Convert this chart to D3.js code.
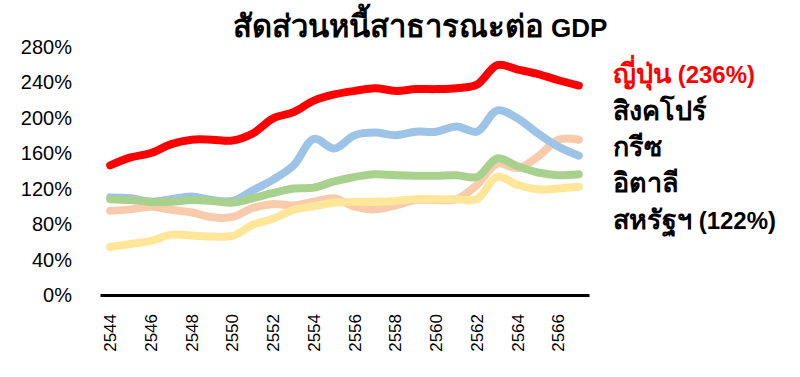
<!DOCTYPE html>
<html>
<head>
<meta charset="utf-8">
<script src="https://cdn.jsdelivr.net/npm/d3@7"></script>
<style>
  body { margin: 0; background: #fff; }
  svg { display: block; font-family: "Liberation Sans", Arial, sans-serif; }
</style>
</head>
<body>
<svg id="chart"></svg>
<script>
// ===============================
// Data
// ===============================
const years = d3.range(2544, 2568);
const tickYears = [2544, 2546, 2548, 2550, 2552, 2554, 2556, 2558, 2560, 2562, 2564, 2566];
const yTicks = [0, 40, 80, 120, 160, 200, 240, 280];

const japan     = [146, 155, 160, 170, 175, 175, 174, 182, 199, 206, 219, 226, 230, 233, 230, 232, 232, 233, 237, 259, 254, 249, 242, 236];
const singapore = [110, 109, 105, 108, 111, 107, 106, 118, 130, 146, 176, 165, 180, 183, 180, 184, 184, 190, 184, 208, 199, 182, 167, 157];
const greece    = [95, 96.5, 99.5, 96, 93, 87.5, 88, 98, 102.5, 101, 105, 109, 99.5, 96.5, 101, 107, 107, 108, 124, 148, 143, 156, 175, 175];
const italy     = [108, 107, 105, 105, 107, 106, 104, 109, 115, 120, 121, 128, 133, 136, 135, 134.5, 134.5, 135, 133, 154, 145, 138, 135, 136];
const usa       = [54, 57.5, 61, 68, 67, 66, 66.5, 79, 86, 96, 100, 104, 105, 105, 106, 108, 108, 108, 108, 133, 124, 119, 120, 122];

const titleText = "สัดส่วนหนี้สาธารณะต่อ GDP";
const legendLabels = ["ญี่ปุ่น (236%)", "สิงคโปร์", "กรีซ", "อิตาลี", "สหรัฐฯ (122%)"];

// ===============================
// Chart
// ===============================
const width = 800, height = 377;
const svg = d3.select("#chart").attr("width", width).attr("height", height);

const x = d3.scaleBand().domain(years).range([100, 589]);
const y = d3.scaleLinear().domain([0, 280]).range([295, 46.5]);

// Thai glyphs in the fallback font run small, so the Thai part gets a bigger size
function splitThai(str) {
    const i = str.indexOf(" ");
    return i < 0 ? [str, ""] : [str.slice(0, i), str.slice(i)];
}

// Title
const title = svg.append("text")
    .attr("x", 420)
    .attr("y", 37)
    .attr("text-anchor", "middle")
    .attr("font-weight", "bold");
const tParts = splitThai(titleText);
title.append("tspan").attr("font-size", 31).text(tParts[0]);
title.append("tspan").attr("font-size", 26).text(tParts[1]);

// Y axis labels (no line)
svg.append("g")
    .selectAll("text")
    .data(yTicks)
    .enter()
    .append("text")
    .attr("x", 72)
    .attr("y", d => y(d))
    .attr("dy", "0.36em")
    .attr("text-anchor", "end")
    .attr("font-size", 20)
    .attr("fill", "#000")
    .text(d => d + "%");

// Lines (drawn bottom to top)
const series = [
    { values: greece,    color: "#F8CBAD" },
    { values: usa,       color: "#FFE699" },
    { values: singapore, color: "#9DC3E6" },
    { values: italy,     color: "#A9D18E" },
    { values: japan,     color: "#FF0000" }
];

const line = d3.line()
    .x((d, i) => x(years[i]) + x.bandwidth() / 2)
    .y(d => y(d))
    .curve(d3.curveCatmullRom.alpha(0.5));

svg.append("g")
    .selectAll("path")
    .data(series)
    .enter()
    .append("path")
    .attr("fill", "none")
    .attr("stroke", d => d.color)
    .attr("stroke-width", 8)
    .attr("stroke-linecap", "round")
    .attr("stroke-linejoin", "round")
    .attr("d", d => line(d.values));

// X axis
const xAxis = svg.append("g")
    .attr("transform", `translate(0, ${y(0)})`)
    .call(d3.axisBottom(x).tickValues(tickYears).tickSize(0).tickSizeOuter(0));

xAxis.attr("font-family", null).attr("font-size", null);

xAxis.select(".domain")
    .attr("stroke", "#000")
    .attr("stroke-width", 3);

xAxis.selectAll(".tick text")
    .attr("font-size", 17)
    .attr("fill", "#000")
    .attr("text-anchor", "end")
    .attr("transform", "rotate(-90)")
    .attr("x", -19)
    .attr("y", 0)
    .attr("dy", "0.35em");

// Legend
const legendY = [83, 120, 156, 192, 229];
const legend = svg.append("g")
    .selectAll("text")
    .data(legendLabels)
    .enter()
    .append("text")
    .attr("x", 613)
    .attr("y", (d, i) => legendY[i])
    .attr("font-weight", "bold")
    .attr("fill", (d, i) => i === 0 ? "#FF0000" : "#000");

legend.append("tspan").attr("font-size", 27).text(d => splitThai(d)[0]);
legend.append("tspan").attr("font-size", 24).text(d => splitThai(d)[1]);
</script>
</body>
</html>
